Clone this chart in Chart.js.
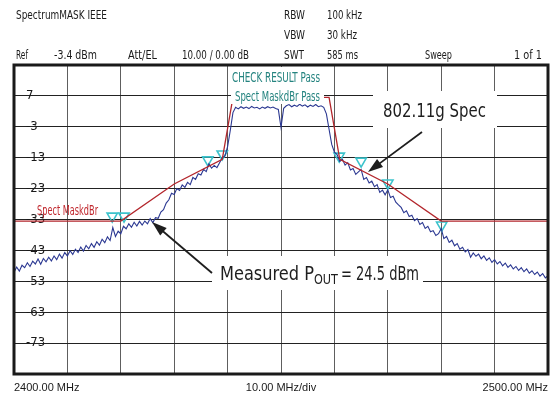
<!DOCTYPE html>
<html>
<head>
<meta charset="utf-8">
<script src="https://cdn.jsdelivr.net/npm/chart.js@4.4.1/dist/chart.umd.min.js"></script>
<style>
  html, body { margin: 0; padding: 0; background: #fff; }
  #wrap { width: 559px; height: 399px; }
</style>
</head>
<body>
<div id="wrap"><canvas id="myChart" width="559" height="399"></canvas></div>
<script>
// sweep: 2400 - 2500 MHz, one reading every 0.5 MHz
const sweepStart = 2400;
const sweepStep = 0.5;
const traceLevels = [
    -50.5, -48.8, -50.1, -48.2, -49.0, -47.4, -48.6, -46.9, -47.8, -46.2,
    -47.9, -46.0, -47.1, -45.6, -46.8, -45.2, -46.4, -44.6, -45.9, -44.1,
    -45.2, -43.5, -44.7, -43.0, -44.1, -42.3, -43.6, -41.8, -42.9, -41.2,
    -42.4, -40.6, -41.7, -39.8, -40.9, -39.0, -40.2, -36.0, -38.9, -37.2,
    -38.0, -35.6, -36.4, -34.8, -35.9, -34.3, -35.5, -34.0, -35.2, -33.9,
    -34.8, -33.1, -34.4, -32.8, -33.0, -31.0, -30.2, -28.1, -27.0, -24.9,
    -25.3, -23.4, -24.0, -22.2, -23.0, -21.4, -22.1, -19.8, -20.4, -18.6,
    -19.0, -17.2, -17.9, -15.4, -16.8, -15.9, -16.6, -15.0, -13.4, -12.8,
    -9.8, -4.6, 1.2, 2.9, 2.4, 3.1, 2.6, 3.0, 2.5, 3.2,
    2.7, 2.9, 2.4, 3.0, 2.6, 3.1, 2.7, 3.0, 2.5, 2.2,
    -3.6, 2.6, 3.4, 3.8, 3.1, 3.6, 3.2, 3.9, 3.3, 3.7,
    3.0, 3.6, 3.2, 3.8, 3.1, 3.4, 2.9, 0.8, -4.2, -9.1,
    -11.6, -12.4, -14.6, -13.9, -15.8, -15.0, -17.4, -16.9, -18.8, -18.0,
    -17.2, -20.4, -19.8, -21.6, -21.0, -22.8, -22.1, -24.6, -23.9, -25.4,
    -23.8, -26.3, -25.9, -27.8, -28.7, -29.5, -31.2, -30.6, -32.4, -32.0,
    -33.8, -33.1, -35.0, -34.4, -36.3, -35.6, -37.4, -37.0, -38.6, -38.0,
    -36.3, -39.6, -38.9, -40.8, -40.1, -41.9, -41.2, -43.0, -42.4, -43.9,
    -43.1, -45.6, -44.2, -45.3, -44.6, -46.1, -45.2, -46.6, -45.8, -47.3,
    -46.4, -47.8, -47.0, -48.4, -47.5, -48.9, -48.1, -49.4, -48.6, -49.9,
    -49.0, -50.3, -49.4, -50.8, -50.0, -51.2, -50.4, -51.7, -50.9, -52.3,
    -51.6
];

// 802.11g spectral mask (dBm)
const maskFreqs = [2400, 2420, 2430, 2439, 2441, 2459, 2461, 2470, 2480, 2500];
const maskLevels = [-33.9, -33.9, -21.9, -13.9, 6.1, 6.1, -13.9, -21.9, -33.9, -33.9];

// check markers
const markerFreqs = [2418.4, 2420.6, 2436.3, 2439.0, 2460.9, 2465.0, 2470.0, 2480.1];
const markerLevels = [-32.3, -32.3, -14.1, -12.2, -12.9, -14.5, -21.6, -35.2];

const xTickValues = [2400, 2410, 2420, 2430, 2440, 2450, 2460, 2470, 2480, 2490, 2500];
const xTickLabels = ['2400.00 MHz', '', '', '', '', '10.00 MHz/div', '', '', '', '', '2500.00 MHz'];
const yTickValues = [16.6, 6.6, -3.4, -13.4, -23.4, -33.4, -43.4, -53.4, -63.4, -73.4, -83.4];
const yTickLabels = ['', '7', '-3', '-13', '-23', '-33', '-43', '-53', '-63', '-73', ''];

const narrow = "'Liberation Sans Narrow', 'DejaVu Sans Condensed', 'Liberation Sans', sans-serif";

const tracePoints = traceLevels.map((v, i) => ({ x: sweepStart + i * sweepStep, y: v }));
const maskPoints = maskFreqs.map((f, i) => ({ x: f, y: maskLevels[i] }));
const markerPoints = markerFreqs.map((f, i) => ({ x: f, y: markerLevels[i] }));

function drawArrow(c, x1, y1, x2, y2) {
    const ang = Math.atan2(y2 - y1, x2 - x1);
    const len = 15, half = 5;
    c.strokeStyle = '#1e1e1e';
    c.fillStyle = '#1e1e1e';
    c.lineWidth = 1.8;
    c.beginPath();
    c.moveTo(x1, y1);
    c.lineTo(x2 - Math.cos(ang) * len * 0.8, y2 - Math.sin(ang) * len * 0.8);
    c.stroke();
    c.beginPath();
    c.moveTo(x2, y2);
    c.lineTo(x2 - Math.cos(ang) * len - Math.sin(ang) * half, y2 - Math.sin(ang) * len + Math.cos(ang) * half);
    c.lineTo(x2 - Math.cos(ang) * len + Math.sin(ang) * half, y2 - Math.sin(ang) * len - Math.cos(ang) * half);
    c.closePath();
    c.fill();
}

const overlay = {
    id: 'overlay',
    afterDraw(chart) {
        const c = chart.ctx;
        const a = chart.chartArea;
        c.save();

        // header
        c.fillStyle = '#1a1a1a';
        c.textBaseline = 'middle';
        c.textAlign = 'left';
        c.font = '13px ' + narrow;
        const header = [
            ['SpectrumMASK IEEE', 16, 16, 91],
            ['RBW', 284, 16, 21], ['100 kHz', 327, 16, 35],
            ['VBW', 284, 36, 21], ['30 kHz', 327, 36, 30],
            ['Ref', 16, 56, 12], ['-3.4 dBm', 54, 56, 43],
            ['Att/EL', 128, 56, 29], ['10.00 / 0.00 dB', 182, 56, 67],
            ['SWT', 284, 56, 20], ['585 ms', 327, 56, 31],
            ['Sweep', 425, 56, 27], ['1 of 1', 514, 56, 28]
        ];
        header.forEach(h => c.fillText(h[0], h[1], h[2], h[3]));

        // check result box
        c.fillStyle = '#fff';
        c.fillRect(231, 67, 93, 37);
        c.fillStyle = '#24837f';
        c.font = '14px ' + narrow;
        c.fillText('CHECK RESULT Pass', 232, 78, 88);
        c.fillText('Spect MaskdBr Pass', 235, 97, 85);

        // mask label
        c.fillStyle = '#c0272d';
        c.font = '14px ' + narrow;
        c.fillText('Spect MaskdBr', 37, 211, 61);

        // callouts
        c.fillStyle = '#fff';
        c.fillRect(373, 91, 124, 37);
        c.fillRect(212, 256, 211, 34);
        c.fillStyle = '#1e1e1e';
        c.font = '20px ' + narrow;
        c.fillText('802.11g Spec', 383, 112, 103);
        c.fillText('Measured P', 220, 275, 94);
        c.font = '14px ' + narrow;
        c.fillText('OUT', 314, 280, 24);
        c.font = '20px ' + narrow;
        c.fillText('= 24.5 dBm', 341, 275, 78);
        drawArrow(c, 422, 132, 368, 172);
        drawArrow(c, 212, 273, 152, 222);

        // frame
        c.strokeStyle = '#1a1a1a';
        c.lineWidth = 3;
        c.strokeRect(a.left, a.top, a.right - a.left, a.bottom - a.top);
        c.restore();
    }
};

const ctx = document.getElementById('myChart').getContext('2d');
const myChart = new Chart(ctx, {
    type: 'line',
    data: {
        datasets: [
            {
                label: 'Mask',
                data: maskPoints,
                borderColor: '#b3262c',
                borderWidth: 1.3,
                pointRadius: 0,
                tension: 0
            },
            {
                label: 'Trace',
                data: tracePoints,
                borderColor: '#2b3892',
                borderWidth: 1.1,
                pointRadius: 0,
                tension: 0
            },
            {
                label: 'Markers',
                data: markerPoints,
                showLine: false,
                pointStyle: 'triangle',
                rotation: 180,
                pointRadius: 6,
                pointBorderWidth: 1.6,
                pointBorderColor: '#3cc3cc',
                pointBackgroundColor: 'rgba(0,0,0,0)'
            }
        ]
    },
    options: {
        responsive: false,
        animation: false,
        layout: { padding: { left: 14, right: 11, top: 65, bottom: 0 } },
        plugins: {
            legend: { display: false },
            tooltip: { enabled: false }
        },
        scales: {
            x: {
                type: 'linear',
                min: 2400,
                max: 2500,
                afterBuildTicks: scale => { scale.ticks = xTickValues.map(v => ({ value: v })); },
                afterFit: scale => { scale.height = 25; },
                ticks: {
                    callback: (value, index) => xTickLabels[index],
                    autoSkip: false,
                    maxRotation: 0,
                    align: 'inner',
                    padding: 7,
                    color: '#1a1a1a',
                    font: { family: "'Liberation Sans', sans-serif", size: 11 }
                },
                grid: { color: '#5e5e5e', drawTicks: false },
                border: { display: false }
            },
            y: {
                min: -83.4,
                max: 16.6,
                afterBuildTicks: scale => { scale.ticks = yTickValues.map(v => ({ value: v })); },
                afterFit: scale => { scale.width = 0; },
                ticks: {
                    callback: (value, index) => yTickLabels[index],
                    mirror: true,
                    padding: 12,
                    color: '#1a1a1a',
                    font: { family: narrow, size: 13 }
                },
                grid: { color: '#222', drawTicks: false },
                border: { display: false }
            }
        }
    },
    plugins: [overlay]
});
</script>
</body>
</html>
